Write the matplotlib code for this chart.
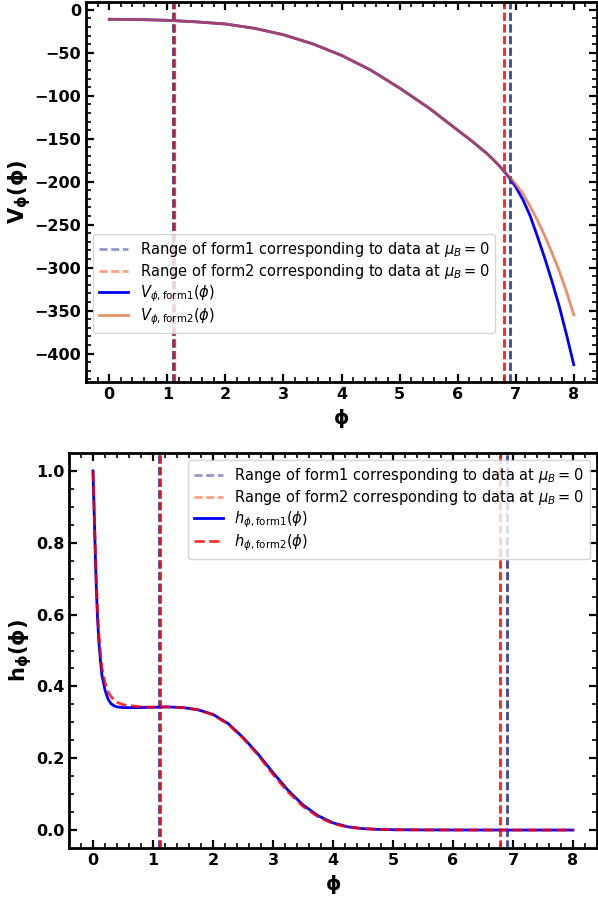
import numpy as np
import matplotlib
matplotlib.use("Agg")
import matplotlib.pyplot as plt
from matplotlib.ticker import AutoMinorLocator, MultipleLocator

# ---------------- data ----------------
phi_V = [0.0, 0.5, 1.0, 1.5, 2.0, 2.5, 3.0, 3.5, 4.0, 4.5, 5.0, 5.5, 6.0,
         6.25, 6.5, 6.625, 6.75, 6.875, 7.0, 7.125, 7.25, 7.375, 7.5,
         7.625, 7.75, 7.875, 8.0]
V_form1 = [-11.0, -11.3, -12.2, -14.0, -16.5, -21.5, -29.0, -39.5, -53.0,
           -70.0, -91.0, -114.0, -140.0, -153.0, -167.0, -175.0, -184.0,
           -194.0, -206.0, -221.0, -240.0, -264.0, -289.0, -316.0, -345.0,
           -378.0, -413.0]
V_form2 = [-11.0, -11.3, -12.2, -14.0, -16.5, -21.5, -29.0, -39.5, -53.0,
           -70.0, -91.0, -114.0, -140.0, -153.0, -167.0, -175.0, -184.0,
           -193.0, -203.0, -214.0, -229.0, -245.0, -263.0, -283.0, -304.0,
           -328.0, -355.0]

phi_h = [0.0, 0.025, 0.05, 0.075, 0.1, 0.125, 0.15, 0.2, 0.25, 0.3, 0.35,
         0.4, 0.5, 0.75, 1.0, 1.25, 1.5, 1.75, 2.0, 2.25, 2.5, 2.75, 3.0,
         3.25, 3.5, 3.75, 4.0, 4.25, 4.5, 4.75, 5.0, 5.5, 6.0, 6.5, 7.0,
         7.5, 8.0]
h_form1 = [1.0, 0.85, 0.70, 0.59, 0.52, 0.47, 0.43, 0.39, 0.365, 0.352,
           0.346, 0.343, 0.341, 0.341, 0.342, 0.343, 0.341, 0.335, 0.322,
           0.297, 0.258, 0.212, 0.160, 0.111, 0.070, 0.040, 0.020, 0.009,
           0.004, 0.002, 0.001, 0.0005, 0.0003, 0.0002, 0.0001, 0.0001,
           0.0001]
h_form2 = [1.0, 0.86, 0.72, 0.61, 0.54, 0.49, 0.45, 0.41, 0.385, 0.372,
           0.362, 0.356, 0.349, 0.344, 0.342, 0.343, 0.341, 0.335, 0.321,
           0.295, 0.256, 0.209, 0.155, 0.106, 0.066, 0.037, 0.018, 0.008,
           0.004, 0.002, 0.001, 0.0005, 0.0003, 0.0002, 0.0001, 0.0001,
           0.0001]

range_form1 = [1.105, 6.90]
range_form2 = [1.115, 6.79]

lbl_r1 = r'Range of form1 corresponding to data at $\mu_B=0$'
lbl_r2 = r'Range of form2 corresponding to data at $\mu_B=0$'

# ---------------- figure ----------------
W, H = 598, 897
fig = plt.figure(figsize=(W / 100, H / 100), dpi=100)

ax1 = fig.add_axes([86 / W, 1 - 382 / H, 511 / W, 380 / H])
ax2 = fig.add_axes([69 / W, 1 - 848 / H, 528 / W, 395 / H])


def draw_ranges(ax):
    for k in range(3):
        for x in range_form1:
            ax.axvline(x, color='#2b3399', alpha=0.5, lw=2, ls=(0, (2.9, 1.3)),
                       label=lbl_r1 if (k == 0 and x == range_form1[0]) else None)
    for k in range(3):
        for x in range_form2:
            c = '#ff4500' if k == 0 else 'red'
            ax.axvline(x, color=c, alpha=0.5, lw=2, ls=(0, (2.9, 1.3)),
                       label=lbl_r2 if (k == 0 and x == range_form2[0]) else None)


def style(ax):
    for s in ax.spines.values():
        s.set_linewidth(2)
    ax.xaxis.set_major_locator(MultipleLocator(1))
    ax.xaxis.set_minor_locator(AutoMinorLocator())
    ax.yaxis.set_minor_locator(AutoMinorLocator())
    ax.tick_params(which='both', direction='in', top=True, right=True)
    ax.tick_params(which='major', length=6, width=1.6, labelsize=11.5)
    ax.tick_params(which='minor', length=3.5, width=1.2)
    for t in ax.get_xticklabels() + ax.get_yticklabels():
        t.set_fontweight('bold')


leg_kw = dict(fontsize=10.5, labelspacing=0.18, handlelength=2.0)

# top panel
draw_ranges(ax1)
ax1.plot(phi_V, V_form1, color='blue', lw=2, label=r'$V_{\phi,\mathrm{form1}}(\phi)$')
ax1.plot(phi_V, V_form2, color='#e8602c', alpha=0.7, lw=2,
         label=r'$V_{\phi,\mathrm{form2}}(\phi)$')
ax1.set_xlabel(r'$\mathbf{\phi}$', fontsize=14)
ax1.set_ylabel(r'$\mathbf{V_{\phi}(\phi)}$', fontsize=15, labelpad=1)
ax1.set_yticks([0, -50, -100, -150, -200, -250, -300, -350, -400])
style(ax1)
ax1.legend(loc='lower left', bbox_to_anchor=(0.0, 0.11), **leg_kw)

# bottom panel
draw_ranges(ax2)
ax2.plot(phi_h, h_form1, color='blue', lw=2, label=r'$h_{\phi,\mathrm{form1}}(\phi)$')
ax2.plot(phi_h, h_form2, color='red', alpha=0.8, lw=2, ls='--',
         label=r'$h_{\phi,\mathrm{form2}}(\phi)$')
ax2.set_xlabel(r'$\mathbf{\phi}$', fontsize=14)
ax2.set_ylabel(r'$\mathbf{h_{\phi}(\phi)}$', fontsize=15, labelpad=1)
style(ax2)
ax2.legend(loc='upper right', **leg_kw)

fig.savefig('out.png', dpi=100)
